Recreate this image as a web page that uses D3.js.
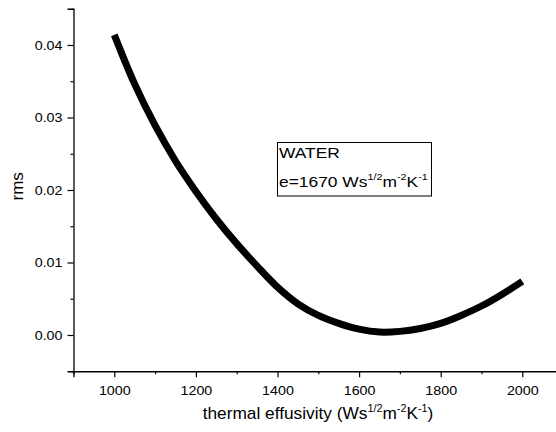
<!DOCTYPE html>
<html>
<head>
<meta charset="utf-8">
<script src="https://cdn.jsdelivr.net/npm/d3@7/dist/d3.min.js"></script>
<style>
  html, body { margin: 0; padding: 0; background: #fff; }
  svg { display: block; font-family: "Liberation Sans", Arial, sans-serif; }
</style>
</head>
<body>
<svg id="chart" width="556" height="432"></svg>
<script>
// Thermal effusivity values (W s^1/2 m^-2 K^-1)
const effusivity = [1000, 1050, 1100, 1150, 1200, 1250, 1300, 1350, 1400, 1450, 1500,
                    1550, 1600, 1650, 1700, 1750, 1800, 1850, 1900, 1950, 2000];
// rms deviation at each effusivity
const rmsValues = [0.0414, 0.0346, 0.0289, 0.0240, 0.0198, 0.0160, 0.0126, 0.0095, 0.0066, 0.0043, 0.0027,
                   0.0016, 0.0008, 0.0004, 0.0005, 0.0009, 0.0016, 0.0027, 0.0040, 0.0056, 0.0074];
const xTicks = [1000, 1200, 1400, 1600, 1800, 2000];
const xMinorTicks = [900, 1100, 1300, 1500, 1700, 1900, 2100];
const yTicks = [0.00, 0.01, 0.02, 0.03, 0.04];
const yMinorTicks = [-0.005, 0.005, 0.015, 0.025, 0.035, 0.045];

const svg = d3.select("#chart");

const x = d3.scaleLinear().domain([900, 2100]).range([73.5, 563.1]);
const y = d3.scaleLinear().domain([-0.005, 0.045]).range([371.25, 8.75]);

const data = effusivity.map((e, i) => ({ e, r: rmsValues[i] }));

// Curve
svg.append("path")
  .datum(data)
  .attr("fill", "none")
  .attr("stroke", "#000")
  .attr("stroke-width", 7)
  .attr("stroke-linecap", "butt")
  .attr("d", d3.line().x(d => x(d.e)).y(d => y(d.r)).curve(d3.curveCatmullRom));

const tickFont = 13, tickStretch = 1.1;

// X axis
const xAxisG = svg.append("g").attr("transform", `translate(0,${y(-0.005)})`);
xAxisG.call(d3.axisBottom(x).tickValues(xTicks).tickFormat(d3.format("d")).tickSize(6).tickPadding(9));
xAxisG.append("g").call(d3.axisBottom(x).tickValues(xMinorTicks).tickFormat("").tickSize(3))
  .select(".domain").remove();
xAxisG.selectAll(".tick text").attr("transform", `scale(${tickStretch},1)`);

// Y axis
const yAxisG = svg.append("g").attr("transform", `translate(${x(900)},0)`);
yAxisG.call(d3.axisLeft(y).tickValues(yTicks).tickFormat(d3.format(".2f")).tickSize(6).tickPadding(5));
yAxisG.append("g").call(d3.axisLeft(y).tickValues(yMinorTicks).tickFormat("").tickSize(3))
  .select(".domain").remove();
yAxisG.selectAll(".tick text")
  .attr("x", -11 / tickStretch)
  .attr("transform", `scale(${tickStretch},1)`);

svg.selectAll(".domain").attr("stroke", "#000").attr("stroke-width", 1.3);
svg.selectAll(".tick line").attr("stroke", "#000").attr("stroke-width", 1.2);
svg.selectAll(".tick text").attr("font-size", tickFont).attr("fill", "#000")
  .attr("font-family", "'Liberation Sans', Arial, sans-serif");

// Unit string with superscripts
function addUnit(t, sup, shift) {
  t.append("tspan").text("Ws");
  t.append("tspan").attr("font-size", sup).attr("dy", -shift).text("1/2");
  t.append("tspan").attr("dy", shift).text("m");
  t.append("tspan").attr("font-size", sup).attr("dy", -shift).text("-2");
  t.append("tspan").attr("dy", shift).text("K");
  t.append("tspan").attr("font-size", sup).attr("dy", -shift).text("-1");
}

// Axis titles
const xTitle = svg.append("text")
  .attr("transform", "translate(318,419) scale(1.08,1)")
  .attr("text-anchor", "middle")
  .attr("font-size", 16)
  .attr("fill", "#000");
xTitle.append("tspan").text("thermal effusivity (");
addUnit(xTitle, 10, 7);
xTitle.append("tspan").attr("dy", 7).text(")");

svg.append("text")
  .attr("transform", `translate(23,${y(0.0205)}) rotate(-90)`)
  .attr("text-anchor", "middle")
  .attr("font-size", 17)
  .attr("fill", "#000")
  .text("rms");

// Annotation box
const box = svg.append("g");
box.append("rect")
  .attr("x", 277.5).attr("y", 142.5)
  .attr("width", 154).attr("height", 53.5)
  .attr("fill", "#fff").attr("stroke", "#000").attr("stroke-width", 1);
box.append("text")
  .attr("transform", "translate(279,158) scale(1.2,1)")
  .attr("font-size", 14.5).attr("fill", "#000")
  .text("WATER");
const line2 = box.append("text")
  .attr("transform", "translate(279,186.5) scale(1.2,1)")
  .attr("font-size", 14.5).attr("fill", "#000");
line2.append("tspan").text("e=1670 ");
addUnit(line2, 9, 6.5);
</script>
</body>
</html>
